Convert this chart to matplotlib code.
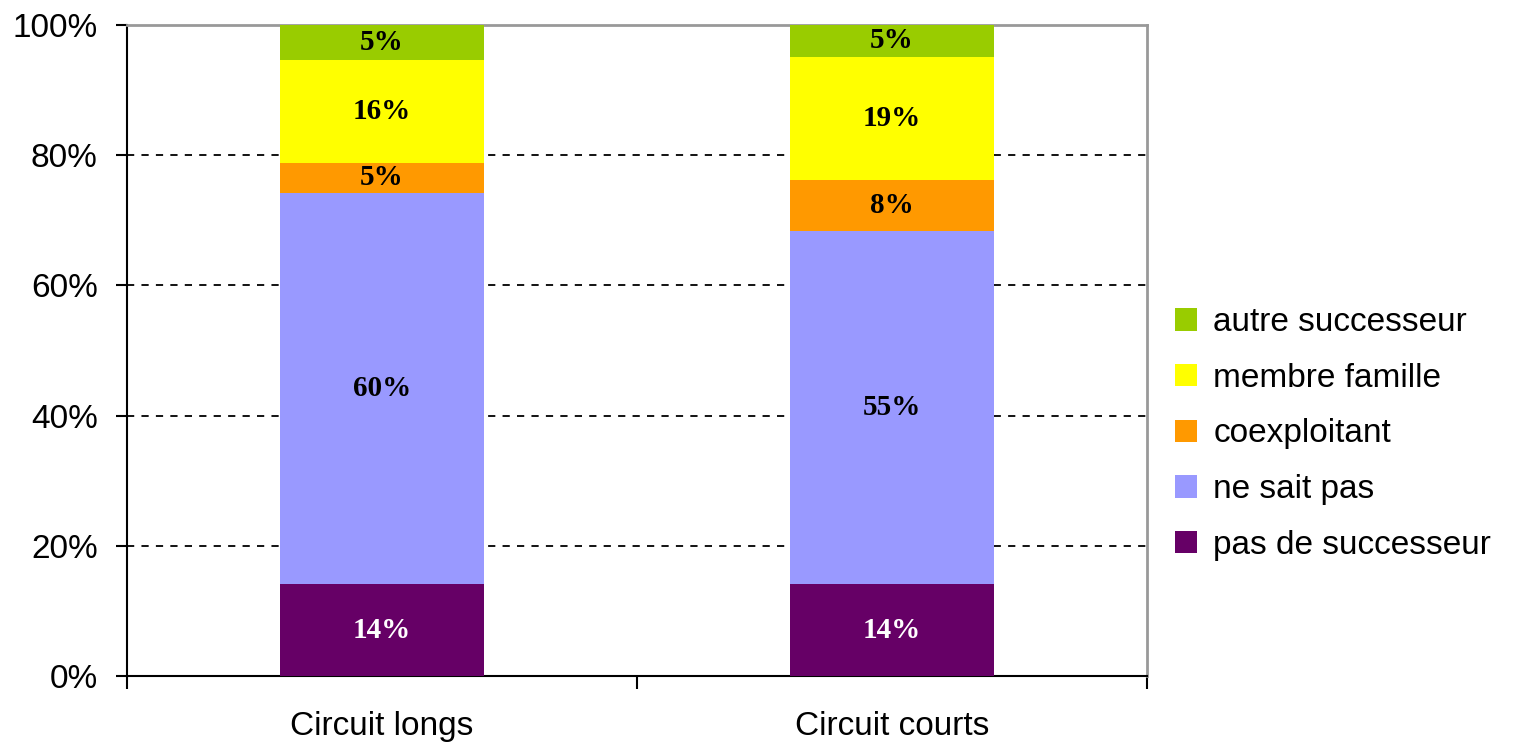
import numpy as np
import matplotlib.pyplot as plt

# data (percent of each circuit)
categories = ["Circuit longs", "Circuit courts"]
series = ["pas de successeur", "ne sait pas", "coexploitant",
          "membre famille", "autre successeur"]
values = {
    "pas de successeur": [14.1, 14.1],
    "ne sait pas":       [60.1, 54.3],
    "coexploitant":      [4.6, 7.8],
    "membre famille":    [15.8, 18.9],
    "autre successeur":  [5.4, 4.9],
}
labels = {
    "pas de successeur": ["14%", "14%"],
    "ne sait pas":       ["60%", "55%"],
    "coexploitant":      ["5%", "8%"],
    "membre famille":    ["16%", "19%"],
    "autre successeur":  ["5%", "5%"],
}
colors = {
    "pas de successeur": "#660066",
    "ne sait pas":       "#9999FF",
    "coexploitant":      "#FF9900",
    "membre famille":    "#FFFF00",
    "autre successeur":  "#99CC00",
}
yticks = [0, 20, 40, 60, 80, 100]

plt.rcParams["font.family"] = ["Liberation Sans", "DejaVu Sans"]

fig = plt.figure(figsize=(15.15, 7.49), dpi=100)
ax = fig.add_axes([127 / 1515, 1 - 676 / 749, 1020 / 1515, 651 / 749])

x = np.arange(len(categories)) + 0.5
bottom = np.zeros(len(categories))
handles = {}
for name in series:
    vals = np.array(values[name])
    bars = ax.bar(x, vals, width=0.4, bottom=bottom, color=colors[name],
                  edgecolor="none", zorder=3, label=name)
    handles[name] = bars
    txt_color = "white" if name == "pas de successeur" else "black"
    for xi, b, v, lab in zip(x, bottom, vals, labels[name]):
        ax.text(xi, b + v / 2, lab, ha="center", va="center",
                fontsize=21, fontweight="bold", color=txt_color,
                family="Liberation Serif", zorder=4)
    bottom += vals

ax.set_xlim(0, 2)
ax.set_ylim(0, 100)

# y axis
ax.set_yticks(yticks)
ax.set_yticklabels([f"{t}%" for t in yticks])
ax.tick_params(axis="y", direction="out", length=8, width=1.5,
               labelsize=24, pad=13)
for t in yticks[1:-1]:
    ax.axhline(t, color="black", linestyle=(0, (4, 4)), linewidth=1.3, zorder=1)

# x axis: ticks on category boundaries, labels centred on bars
ax.set_xticks([0, 1, 2])
ax.set_xticklabels([])
ax.set_xticks(x, minor=True)
ax.set_xticklabels(categories, minor=True)
ax.tick_params(axis="x", which="major", direction="out", length=9, width=1.5)
ax.tick_params(axis="x", which="minor", length=0, labelsize=24, pad=25)

for side in ("left", "bottom"):
    ax.spines[side].set_color("black")
    ax.spines[side].set_linewidth(1.5)
for side in ("top", "right"):
    ax.spines[side].set_color("#999999")
    ax.spines[side].set_linewidth(2)

order = list(reversed(series))
fig.legend([handles[n] for n in order], order, loc="center left",
           bbox_to_anchor=(1145 / 1515, 1 - 434 / 749), frameon=False,
           fontsize=24, handlelength=0.65, handleheight=0.65,
           handletextpad=0.5, labelspacing=0.74)

fig.savefig("out.png", dpi=100)
